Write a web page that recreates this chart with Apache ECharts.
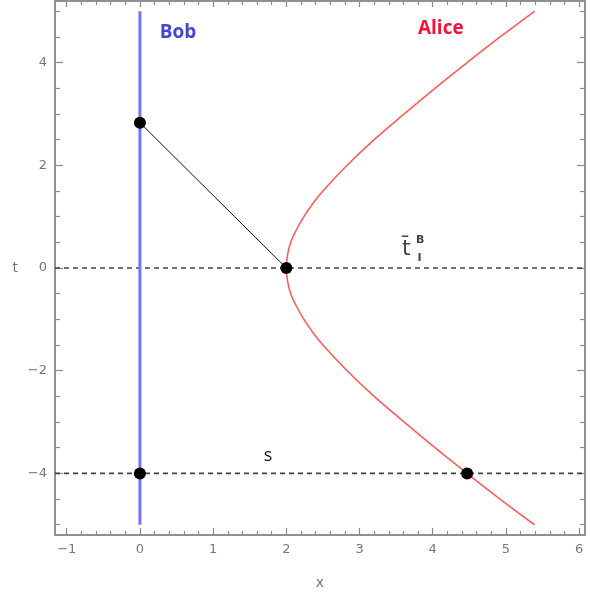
<!DOCTYPE html>
<html><head><meta charset="utf-8">
<script src="https://cdn.jsdelivr.net/npm/echarts@6/dist/echarts.min.js"></script>
<style>html,body{margin:0;padding:0;background:#fff}#c{width:611px;height:597px}</style>
</head><body><div id="c"></div>
<script>
// ---- data ----
const xRange = [-1.16, 6.08];
const yRange = [-5.2, 5.2];
const xMajor = [-1, 0, 1, 2, 3, 4, 5, 6];
const xMinor = [-0.8,-0.6,-0.4,-0.2,0.2,0.4,0.6,0.8,1.2,1.4,1.6,1.8,2.2,2.4,2.6,2.8,3.2,3.4,3.6,3.8,4.2,4.4,4.6,4.8,5.2,5.4,5.6,5.8];
const yMajor = [-4, -2, 0, 2, 4];
const yMinor = [-5, -4.5, -3.5, -3, -2.5, -1.5, -1, -0.5, 0.5, 1, 1.5, 2.5, 3, 3.5, 4.5, 5];
const bobLine = [[0, -5], [0, 5]];
const aliceT = [-5, -4.5, -4, -3.5, -3, -2.5, -2, -1.5, -1.25, -1, -0.75, -0.5, -0.25, 0, 0.25, 0.5, 0.75, 1, 1.25, 1.5, 2, 2.5, 3, 3.5, 4, 4.5, 5];
const aliceX = [5.39, 4.92, 4.47, 4.03, 3.61, 3.20, 2.83, 2.50, 2.36, 2.24, 2.14, 2.06, 2.016, 2.00, 2.016, 2.06, 2.14, 2.24, 2.36, 2.50, 2.83, 3.20, 3.61, 4.03, 4.47, 4.92, 5.39];
const signalLine = [[0, 2.83], [2, 0]];
const dashY = [0, -4];
const dots = [[0, 2.83], [2, 0], [0, -4], [4.47, -4]];
const labels = [
  {name: 'Bob', pos: [0.52, 4.58]},
  {name: 'Alice', pos: [4.11, 4.66]},
  {name: 's', pos: [1.75, -3.66]}
];
const tbarPos = [3.64, 0.37];
const supPos = [3.83, 0.54];
const subPos = [3.82, 0.19];

// ---- chart ----
const frameColor = '#8a8a8a';
const labelColor = '#777';
function xAx(pos, vals, len, showLabel, extra) {
  return Object.assign({
    type: 'value', position: pos, min: xRange[0], max: xRange[1],
    axisLine: {show: true, onZero: false, lineStyle: {color: frameColor, width: 1.5}},
    splitLine: {show: false},
    axisTick: {show: true, inside: true, length: len, customValues: vals, lineStyle: {color: frameColor, width: 1.2}},
    axisLabel: showLabel ? {show: true, customValues: vals, color: labelColor, fontSize: 13, fontFamily: 'DejaVu Sans', margin: 8, formatter: v => String(v).replace('-', '\u2212')} : {show: false}
  }, extra || {});
}
function yAx(pos, vals, len, showLabel, extra) {
  return Object.assign({
    type: 'value', position: pos, min: yRange[0], max: yRange[1],
    axisLine: {show: true, onZero: false, lineStyle: {color: frameColor, width: 1.5}},
    splitLine: {show: false},
    axisTick: {show: true, inside: true, length: len, customValues: vals, lineStyle: {color: frameColor, width: 1.2}},
    axisLabel: showLabel ? {show: true, customValues: vals, color: labelColor, fontSize: 13, fontFamily: 'DejaVu Sans', margin: 8, formatter: v => String(v).replace('-', '\u2212')} : {show: false}
  }, extra || {});
}

const chart = echarts.init(document.getElementById('c'));
const aliceData = aliceT.map((t, i) => [aliceX[i], t]);
const dashSeries = dashY.map(y => ({
  type: 'line', data: [[xRange[0], y], [xRange[1], y]], symbol: 'none', silent: true,
  lineStyle: {color: '#444', width: 1.6, type: [5, 4]}, z: 2
}));
const textStyleFor = name => ({
  Bob: {color: '#4646d2', fontWeight: 'bold', fontSize: 19},
  Alice: {color: '#ee1438', fontWeight: 'bold', fontSize: 19},
  s: {color: '#111', fontWeight: 'normal', fontSize: 18}
}[name]);
const textSeries = labels.map(l => ({
  type: 'scatter', data: [l.pos], symbolSize: 0, silent: true, itemStyle: {opacity: 1},
  label: Object.assign({show: true, position: 'inside', formatter: l.name, fontFamily: 'Open Sans'}, textStyleFor(l.name))
}));
chart.setOption({
  animation: false,
  grid: {left: 55, right: 26, top: 1, bottom: 62},
  xAxis: [
    xAx('bottom', xMajor, 7, true, {name: 'x', nameLocation: 'middle', nameGap: 41, nameTextStyle: {color: labelColor, fontSize: 14, fontFamily: 'DejaVu Sans'}}),
    xAx('bottom', xMinor, 4, false),
    xAx('top', xMajor, 6, false),
    xAx('top', xMinor, 4, false)
  ],
  yAxis: [
    yAx('left', yMajor, 8, true, {name: 't', nameLocation: 'middle', nameRotate: 0, nameGap: 37, nameTextStyle: {color: labelColor, fontSize: 14, fontFamily: 'DejaVu Sans'}}),
    yAx('left', yMinor, 5, false),
    yAx('right', yMajor, 8, false),
    yAx('right', yMinor, 5, false)
  ],
  series: [
    ...dashSeries,
    {type: 'line', data: bobLine, symbol: 'none', lineStyle: {color: '#7474ff', width: 3}, z: 3},
    {type: 'line', data: aliceData, symbol: 'none', smooth: 0.4, lineStyle: {color: '#ff5c5c', width: 1.6}, z: 3},
    {type: 'line', data: signalLine, symbol: 'none', lineStyle: {color: '#111', width: 1}, z: 3},
    {type: 'scatter', data: dots, symbol: 'circle', symbolSize: 12, itemStyle: {color: '#000', opacity: 1}, z: 5},
    ...textSeries,
    {type: 'scatter', data: [tbarPos], symbolSize: 0, silent: true,
      label: {show: true, position: 'inside', formatter: 't\u0304', color: '#111', fontSize: 22, fontFamily: 'DejaVu Sans'}},
    {type: 'scatter', data: [supPos], symbolSize: 0, silent: true,
      label: {show: true, position: 'inside', formatter: 'B', color: '#111', fontSize: 11, fontWeight: 'bold', fontFamily: 'DejaVu Sans'}},
    {type: 'scatter', data: [subPos], symbolSize: 0, silent: true,
      label: {show: true, position: 'inside', formatter: 'I', color: '#111', fontSize: 11, fontWeight: 'bold', fontFamily: 'DejaVu Sans'}}
  ]
});
</script></body></html>
